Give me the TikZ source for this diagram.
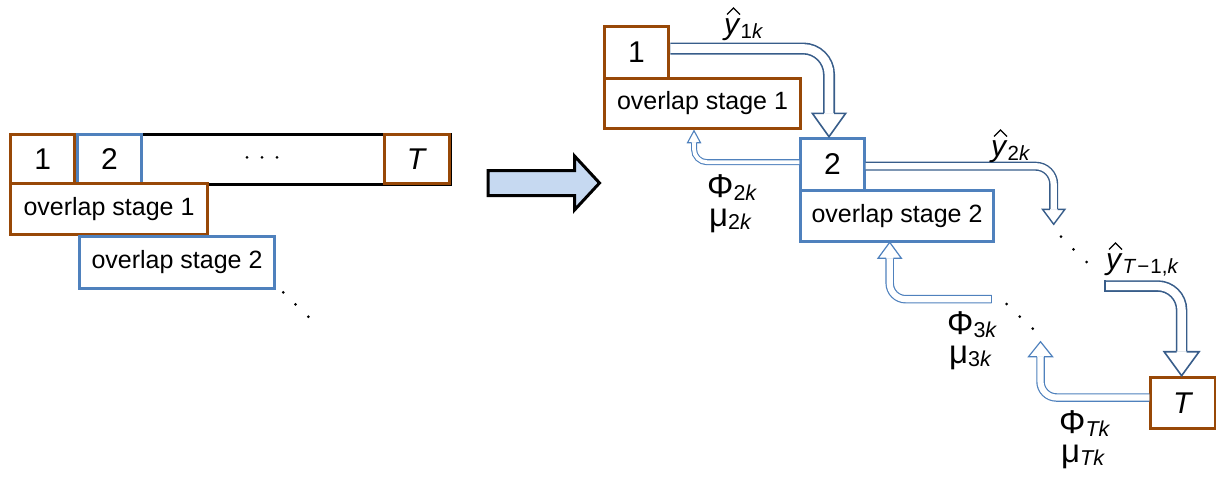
\documentclass[tikz,border=0pt]{standalone}
\usepackage{fontspec}
\setmainfont{Liberation Sans}
\usetikzlibrary{calc}

\definecolor{stagebrown}{HTML}{984807}
\definecolor{stageblue}{HTML}{4F81BD}
\definecolor{fwdblue}{HTML}{385D8A}
\definecolor{backblue}{HTML}{4F81BD}
\definecolor{bigfill}{HTML}{C6D9F1}

% subscripts for the estimate labels and the feedback labels
\newcommand\ysub[1]{\raisebox{-4pt}{\fontsize{20.5}{20.5}\selectfont #1}}
\newcommand\gsub[1]{\raisebox{-3pt}{\fontsize{21.5}{21.5}\selectfont #1}}

\begin{document}
\begin{tikzpicture}[x=1pt,y=-1pt,
  cellbox/.style={draw, line width=3pt, fill=white, inner sep=0pt,
    anchor=north west, font=\fontsize{30}{36}\selectfont},
  stagebox/.style={draw, line width=3pt, fill=white, inner sep=0pt,
    anchor=north west, font=\fontsize{25}{30}\selectfont},
  hatlbl/.style={inner sep=0pt, anchor=base west, font=\fontsize{30}{36}\selectfont},
  gradlbl/.style={inner sep=0pt, anchor=north west, align=left,
    font=\fontsize{33}{29}\selectfont},
  hatmark/.style={draw=black, line width=1.2pt, line join=miter},
  fwdhead/.style={draw=fwdblue, fill=white, line join=miter},
  backhead/.style={draw=backblue, fill=white, line join=miter},
  dotmark/.style={fill=black, draw=none}
]
\useasboundingbox (0,0) rectangle (1216,477);

% ---------- time horizon split into overlapping stages ----------
\node[draw=black, line width=3pt, fill=white, inner sep=0pt, anchor=north west,
      minimum width=439.7pt, minimum height=50.6pt] (seq) at (9.3,132.7) {};
\node[cellbox, draw=stagebrown, minimum width=64pt, minimum height=49.6pt] (a1) at (9.3,132.7) {1};
\node[cellbox, draw=stageblue, minimum width=64pt, minimum height=49.6pt] (a2) at (76,132.7) {2};
\node[cellbox, draw=stagebrown, minimum width=65pt, minimum height=49.6pt] (aT) at (383,132.7) {\textit{T}};
\node[stagebox, draw=stagebrown, minimum width=196.4pt, minimum height=51.6pt] (ao1) at (9.3,181.7) {overlap stage 1};
\node[stagebox, draw=stageblue, minimum width=194.4pt, minimum height=51.7pt] (ao2) at (78.3,235) {overlap stage 2};

\foreach \px in {247,262,277} \fill[dotmark] (\px,157.3) circle[radius=1.5pt];
\fill[dotmark] (283.3,292.3) circle[radius=1.5pt];
\fill[dotmark] (295.5,304.3) circle[radius=1.5pt];
\fill[dotmark] (308.3,316.7) circle[radius=1.5pt];

% ---------- block arrow ----------
\draw[line width=3pt, fill=bigfill, line join=miter]
  (488,170.5) -- (574.5,170.5) -- (574.5,156) -- (599.5,183)
  -- (574.5,210) -- (574.5,195.5) -- (488,195.5) -- cycle;

% ---------- stage-wise scheme ----------
\node[stagebox, draw=stagebrown, minimum width=196.6pt, minimum height=50.6pt] (o1) at (602.7,76.7) {overlap stage 1};
\node[cellbox, draw=stagebrown, minimum width=64.6pt, minimum height=52pt] (b1) at (602.7,24.7) {1};
\node[stagebox, draw=stageblue, minimum width=192.4pt, minimum height=50.7pt] (o2) at (799.3,189.3) {overlap stage 2};
\node[cellbox, draw=stageblue, minimum width=63.4pt, minimum height=52.6pt] (b2) at (799.3,136.7) {2};
\node[cellbox, draw=stagebrown, minimum width=64.7pt, minimum height=51.6pt] (bT) at (1149.3,375.7) {\textit{T}};

% forward arrow: stage 1 -> stage 2
\coordinate (r1) at (0,48.5);
\coordinate (h1) at (829,113.3);
\draw[draw=fwdblue, line width=1.6pt, double=white, double distance=8.8pt, rounded corners=26pt]
  (b1.east |- r1) -| (h1);
\draw[fwdhead, line width=1.6pt] ($(h1)+(5.2,0)$) -- ($(h1)+(16.7,0)$) -- (b2.north -| h1)
  -- ($(h1)+(-16.7,0)$) -- ($(h1)+(-5.2,0)$);

% forward arrow: stage 2 -> onwards
\coordinate (r2) at (0,166.2);
\coordinate (h2) at (1053.7,209.3);
\coordinate (t2) at (1053.7,224.3);
\draw[draw=fwdblue, line width=1.4pt, double=white, double distance=6.2pt, rounded corners=18pt]
  (b2.east |- r2) -| (h2);
\draw[fwdhead, line width=1.4pt] ($(h2)+(3.8,0)$) -- ($(h2)+(11.2,0)$) -- (t2)
  -- ($(h2)+(-11.2,0)$) -- ($(h2)+(-3.8,0)$);

% forward arrow: stage T-1 -> stage T
\coordinate (s3) at (1105,286);
\coordinate (h3) at (1181.6,351.7);
\draw[draw=fwdblue, line width=1.6pt, double=white, double distance=8.3pt, rounded corners=24pt]
  (s3) -| (h3);
\draw[fwdblue, line width=1.6pt] ($(s3)+(0,-5.75)$) -- ($(s3)+(0,5.75)$);
\draw[fwdhead, line width=1.6pt] ($(h3)+(4.95,0)$) -- ($(h3)+(17.5,0)$) -- (bT.north -| h3)
  -- ($(h3)+(-17.5,0)$) -- ($(h3)+(-4.95,0)$);

% feedback arrow: stage 2 -> overlap stage 1
\coordinate (r4) at (0,162.2);
\coordinate (g2) at (694,142.7);
\coordinate (u2) at (694,130.7);
\draw[draw=backblue, line width=1.1pt, double=white, double distance=3.8pt, rounded corners=13pt]
  (b2.west |- r4) -| (g2);
\draw[backhead, line width=1.1pt] ($(g2)+(2.45,0)$) -- ($(g2)+(6.5,0)$) -- (u2)
  -- ($(g2)+(-6.5,0)$) -- ($(g2)+(-2.45,0)$);

% feedback arrow: stage 3 -> overlap stage 2
\coordinate (s5) at (991.7,299.2);
\coordinate (g3) at (889.7,258.3);
\coordinate (u3) at (889.7,242.3);
\draw[draw=backblue, line width=1.2pt, double=white, double distance=6.1pt, rounded corners=16pt]
  (s5) -| (g3);
\draw[backblue, line width=1.2pt] ($(s5)+(0,-4.25)$) -- ($(s5)+(0,4.25)$);
\draw[backhead, line width=1.2pt] ($(g3)+(3.65,0)$) -- ($(g3)+(11.7,0)$) -- (u3)
  -- ($(g3)+(-11.7,0)$) -- ($(g3)+(-3.65,0)$);

% feedback arrow: stage T -> onwards back
\coordinate (r6) at (0,397.5);
\coordinate (gT) at (1040.5,356.7);
\coordinate (uT) at (1040.5,341.7);
\draw[draw=backblue, line width=1.2pt, double=white, double distance=6.1pt, rounded corners=16pt]
  (bT.west |- r6) -| (gT);
\draw[backhead, line width=1.2pt] ($(gT)+(3.65,0)$) -- ($(gT)+(12,0)$) -- (uT)
  -- ($(gT)+(-12,0)$) -- ($(gT)+(-3.65,0)$);

% ellipses between stages
\fill[dotmark] (1061,236.7) circle[radius=1.5pt];
\fill[dotmark] (1073.5,249.3) circle[radius=1.5pt];
\fill[dotmark] (1086.5,262) circle[radius=1.5pt];
\fill[dotmark] (1006.7,304) circle[radius=1.5pt];
\fill[dotmark] (1019.7,316.7) circle[radius=1.5pt];
\fill[dotmark] (1032.7,328.7) circle[radius=1.5pt];

% estimate labels with hats
\node[hatlbl] (y1) at (724,34) {\textit{y}\ysub{1\textit{k}}};
\draw[hatmark] ($(y1.base west)+(3,-19.5)$) -- ($(y1.base west)+(9.5,-26)$) -- ($(y1.base west)+(16,-19.5)$);
\node[hatlbl] (y2) at (991,156) {\textit{y}\ysub{2\textit{k}}};
\draw[hatmark] ($(y2.base west)+(3,-19.5)$) -- ($(y2.base west)+(9.5,-26)$) -- ($(y2.base west)+(16,-19.5)$);
\node[hatlbl] (yT) at (1106,269) {\textit{y}\ysub{\textit{T}\kern1pt−\kern1pt1,\textit{k}}};
\draw[hatmark] ($(yT.base west)+(3,-19.5)$) -- ($(yT.base west)+(9.5,-26)$) -- ($(yT.base west)+(16,-19.5)$);

% feedback labels
\node[gradlbl] (f2) at (707,174.5) {Φ\gsub{2\textit{k}}\\\kern2ptμ\gsub{2\textit{k}}};
\node[gradlbl] (f3) at (947,311.2) {Φ\gsub{3\textit{k}}\\\kern2ptμ\gsub{3\textit{k}}};
\node[gradlbl] (fT) at (1059,410.2) {Φ\gsub{\textit{Tk}}\\\kern2ptμ\gsub{\textit{Tk}}};
\end{tikzpicture}
\end{document}
